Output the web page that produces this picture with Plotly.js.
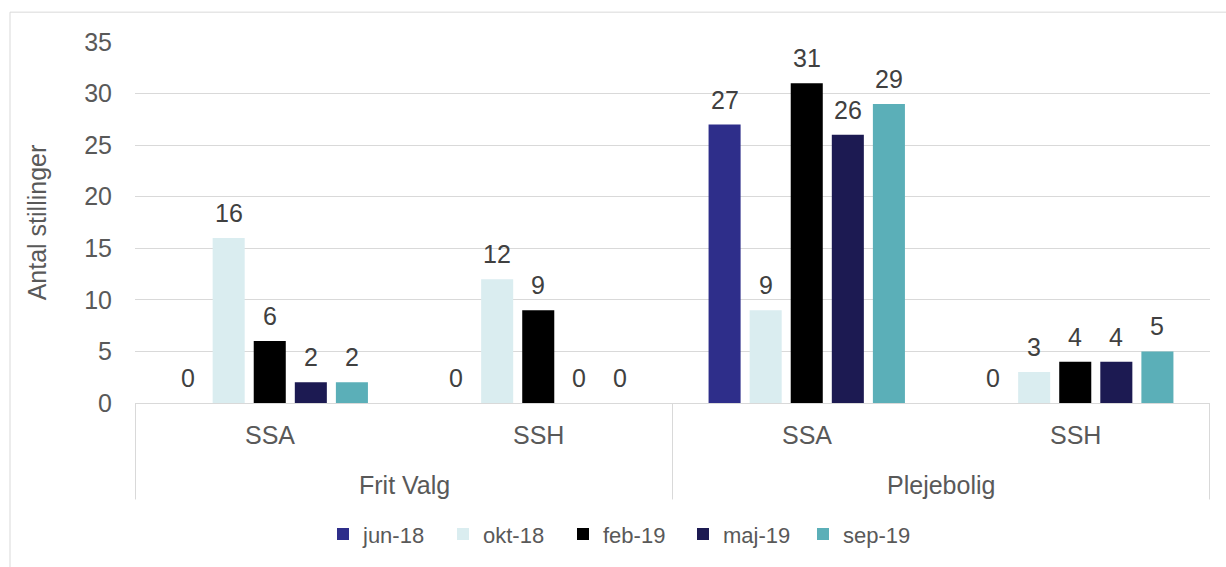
<!DOCTYPE html>
<html>
<head>
<meta charset="utf-8">
<script src="https://cdn.plot.ly/plotly-3.0.1.min.js"></script>
<style>
html,body{margin:0;padding:0;background:#fff;}
#chart{width:1226px;height:567px;}
</style>
</head>
<body>
<div id="chart"></div>
<script>
const groups = ["Frit Valg", "Frit Valg", "Plejebolig", "Plejebolig"];
const subCategories = ["SSA", "SSH", "SSA", "SSH"];
const seriesNames = ["jun-18", "okt-18", "feb-19", "maj-19", "sep-19"];
const jun18 = [0, 0, 27, 0];
const okt18 = [16, 12, 9, 3];
const feb19 = [6, 9, 31, 4];
const maj19 = [2, 0, 26, 4];
const sep19 = [2, 0, 29, 5];
const seriesValues = [jun18, okt18, feb19, maj19, sep19];
const seriesColors = ["#2E2E8A", "#DAEDF0", "#000000", "#1C1A52", "#5BAFB8"];
const yTicks = [0, 5, 10, 15, 20, 25, 30, 35];

const FONT = "Liberation Sans, Arial, sans-serif";
const BARGAP = 0.235, BARGROUPGAP = 0.22;

const plotLeft = 135, plotRight = 1210, plotTop = 42, plotBottom = 405;
const pw = plotRight - plotLeft, ph = plotBottom - plotTop;
const px2paperY = p => (plotBottom - p) / ph;

const traces = seriesNames.map((name, i) => ({
  type: "bar",
  name: name,
  x: [groups, subCategories],
  y: seriesValues[i],
  marker: { color: seriesColors[i], line: { width: 0 } },
  hoverinfo: "skip"
}));

const annotations = [];
// data labels above each bar, on the axis scale
const nS = seriesNames.length;
const slot = (1 - BARGAP) / nS;
seriesValues.forEach((vals, i) => {
  vals.forEach((v, c) => {
    annotations.push({
      xref: "x", yref: "y",
      x: c + (i - (nS - 1) / 2) * slot,
      y: v,
      text: String(v),
      showarrow: false,
      xanchor: "center", yanchor: "bottom",
      yshift: 9,
      font: { family: FONT, size: 25, color: "#404040" }
    });
  });
});
// category labels (inner level)
subCategories.forEach((s, c) => {
  annotations.push({
    xref: "x", yref: "paper", x: c, y: px2paperY(437),
    text: s, showarrow: false, xanchor: "center", yanchor: "middle",
    font: { family: FONT, size: 25, color: "#595959" }
  });
});
// outer group labels and dividers
const groupNames = [...new Set(groups)];
const shapes = [];
groupNames.forEach(g => {
  const idx = groups.map((v, k) => v === g ? k : -1).filter(k => k >= 0);
  const mid = (idx[0] + idx[idx.length - 1]) / 2;
  annotations.push({
    xref: "x", yref: "paper", x: mid, y: px2paperY(487),
    text: g, showarrow: false, xanchor: "center", yanchor: "middle",
    font: { family: FONT, size: 25, color: "#595959" }
  });
});
const bounds = [-0.5];
groups.forEach((g, k) => { if (k === groups.length - 1 || groups[k + 1] !== g) bounds.push(k + 0.5); });
bounds.forEach(b => {
  shapes.push({
    type: "line", xref: "x", yref: "paper",
    x0: b, x1: b, y0: 0, y1: px2paperY(502),
    line: { color: "#D9D9D9", width: 1 }
  });
});
// chart area border
shapes.push({
  type: "rect", xref: "paper", yref: "paper",
  x0: (10 - plotLeft) / pw, x1: 1.2,
  y0: -0.7, y1: px2paperY(12),
  line: { color: "#D9D9D9", width: 1 },
  fillcolor: "rgba(0,0,0,0)",
  layer: "below"
});

const layout = {
  width: 1226,
  height: 567,
  margin: { l: plotLeft, r: 1226 - plotRight, t: plotTop, b: 567 - plotBottom, pad: 0 },
  paper_bgcolor: "#ffffff",
  plot_bgcolor: "rgba(0,0,0,0)",
  barmode: "group",
  bargap: BARGAP,
  bargroupgap: BARGROUPGAP,
  font: { family: FONT, color: "#595959", size: 25 },
  showlegend: true,
  legend: {
    orientation: "h",
    x: (323 - plotLeft) / pw, xanchor: "left",
    y: px2paperY(537), yanchor: "middle",
    font: { family: FONT, size: 22, color: "#595959" },
    traceorder: "normal",
    entrywidth: 75,
    entrywidthmode: "pixels"
  },
  xaxis: {
    type: "multicategory",
    showline: true,
    linecolor: "#D9D9D9",
    linewidth: 1,
    showdividers: false,
    showticklabels: false,
    ticks: "",
    showgrid: false,
    zeroline: false,
    fixedrange: true
  },
  yaxis: {
    range: [0, 35],
    tickvals: yTicks,
    ticktext: yTicks.map(String),
    showgrid: true,
    gridcolor: "#D9D9D9",
    gridwidth: 1,
    zeroline: false,
    showline: false,
    ticks: "",
    ticklabelstandoff: 22,
    tickfont: { family: FONT, size: 25, color: "#595959" },
    title: { text: "Antal stillinger", font: { family: FONT, size: 25, color: "#595959" }, standoff: 30 },
    fixedrange: true
  },
  annotations: annotations,
  shapes: shapes
};

Plotly.newPlot("chart", traces, layout, { displayModeBar: false, staticPlot: true });
</script>
</body>
</html>
